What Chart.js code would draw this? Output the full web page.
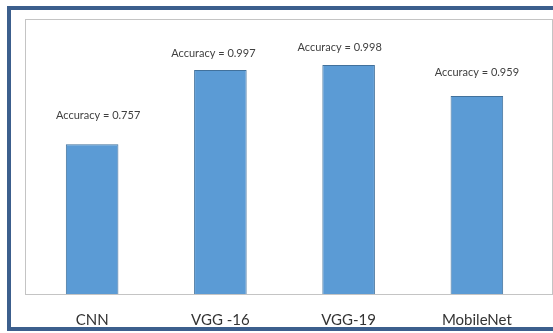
<!DOCTYPE html>
<html>
<head>
<meta charset="utf-8">
<script src="https://cdn.jsdelivr.net/npm/chart.js@4"></script>
<style>
	body { margin: 0; background: #fff; overflow: hidden; }
	#wrap { position: relative; width: 553px; height: 333px; overflow: hidden; }
	#frame { position: absolute; left: 7px; top: 6px; width: 620px; height: 317px; border: 4px solid #3c5f8d; }
	#plotbox { position: absolute; left: 25px; top: 19px; width: 526px; height: 274px; border: 1px solid #c4c4c4; }
	canvas { position: absolute; left: 0; top: 0; }
</style>
</head>
<body>
<div id="wrap">
	<div id="frame"></div>
	<div id="plotbox"></div>
	<canvas id="myChart" width="553" height="333"></canvas>
</div>
<script>
// models on the x axis
let models = ['CNN', 'VGG -16', 'VGG-19', 'MobileNet'];
// accuracy printed above each bar
let accuracy = [0.757, 0.997, 0.998, 0.959];
// bar heights as drawn in the picture (share of the plot height)
let barHeights = [0.545, 0.815, 0.833, 0.72];

// text boxes above the bars
const accuracyLabels = {
	id: 'accuracyLabels',
	afterDatasetsDraw(chart, args, opts) {
		let ctx = chart.ctx;
		let bars = chart.getDatasetMeta(0).data;
		ctx.save();
		ctx.font = opts.font;
		ctx.fillStyle = opts.color;
		ctx.textAlign = 'center';
		ctx.textBaseline = 'middle';
		bars.forEach((bar, i) => {
			ctx.fillText('Accuracy = ' + accuracy[i].toFixed(3), bar.x + opts.shiftX[i], bar.y - opts.gap[i]);
		});
		ctx.restore();
	}
};

function createBarChart(elID, labels, values) {
	let ctx = document.getElementById(elID).getContext('2d');
	let myChart = new Chart(ctx, {
		type: 'bar',
		data: {
			labels: labels,
			datasets: [{
				data: values,
				backgroundColor: '#5b9bd5',
				borderColor: '#41719c',
				borderWidth: 1,
				barPercentage: 0.41,
				categoryPercentage: 1
			}]
		},
		options: {
			responsive: false,
			animation: false,
			layout: { padding: { left: 28, right: 12, top: 19, bottom: 4 } },
			plugins: {
				legend: { display: false },
				tooltip: { enabled: false },
				accuracyLabels: {
					font: '11px Lato',
					color: '#404040',
					gap: [29, 16, 17, 24],
					shiftX: [6, -7, -9, 0]
				}
			},
			scales: {
				x: {
					grid: { display: false, drawTicks: false },
					border: { display: true, color: '#c4c4c4', width: 1 },
					ticks: { color: '#333', font: { family: 'Lato', size: 15 }, padding: 17, maxRotation: 0 },
					afterFit(scale) { scale.height = 35; }
				},
				y: { display: false, min: 0, max: 1 }
			}
		},
		plugins: [accuracyLabels]
	});
}

createBarChart('myChart', models, barHeights);
</script>
</body>
</html>
